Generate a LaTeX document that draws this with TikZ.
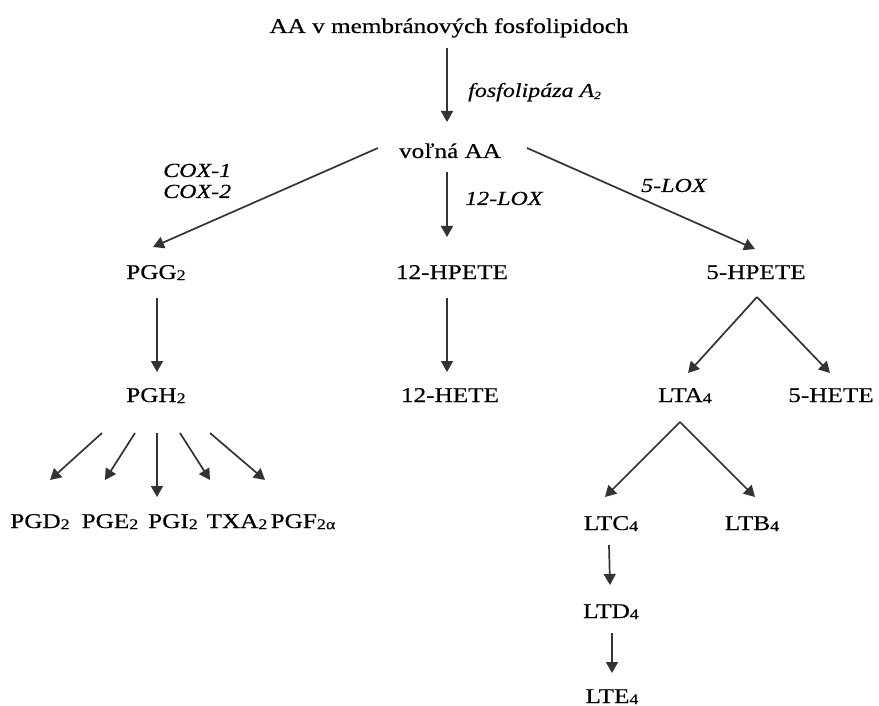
\documentclass[tikz,border=0pt]{standalone}
\usepackage{fontspec}
\setmainfont[FakeStretch=1.2,FakeBold=0.4]{Liberation Serif}
\usetikzlibrary{arrows.meta}
\newcommand\dn[1]{\raisebox{-1.2pt}{\fontsize{15}{15}\selectfont #1}}
\newcommand\dnsmall[1]{\raisebox{-2pt}{\fontsize{11}{11}\selectfont #1}}
\begin{document}
\begin{tikzpicture}[x=1pt,y=-1pt,
  lbl/.style={inner sep=0pt, anchor=base, font=\fontsize{21}{24}\selectfont},
  enz/.style={inner sep=0pt, anchor=base west, font=\fontsize{20}{24}\selectfont\itshape},
  arr/.style={draw=black!80, line width=1.7pt, -{Triangle[length=11pt,width=12pt]}}]
\useasboundingbox (0,0) rectangle (879,706);
% nodes
\node[lbl] (top) at (449,33) {AA v membránových fosfolipidoch};
\node[enz] (fosfo) at (468,97) {fosfolipáza A\dnsmall{2}};
\node[lbl] (volna) at (450,158) {voľná AA};
\node[enz] (cox1) at (163,177) {COX-1};
\node[enz] (cox2) at (163,198) {COX-2};
\node[enz] (lox12) at (465,205) {12-LOX};
\node[enz] (lox5) at (641,192) {5-LOX};
\node[lbl] (pgg2) at (156,279) {PGG\dn{2}};
\node[lbl] (hpete12) at (452,279) {12-HPETE};
\node[lbl] (hpete5) at (756,279) {5-HPETE};
\node[lbl] (pgh2) at (156,402) {PGH\dn{2}};
\node[lbl] (hete12) at (450,402) {12-HETE};
\node[lbl] (lta4) at (685,402) {LTA\dn{4}};
\node[lbl] (hete5) at (831,402) {5-HETE};
\node[lbl] (pgd2) at (40,528) {PGD\dn{2}};
\node[lbl] (pge2) at (110,528) {PGE\dn{2}};
\node[lbl] (pgi2) at (173,528) {PGI\dn{2}};
\node[lbl] (txa2) at (237,528) {TXA\dn{2}};
\node[lbl] (pgf2a) at (303,528) {PGF\dn{2α}};
\node[lbl] (ltc4) at (611,530) {LTC\dn{4}};
\node[lbl] (ltb4) at (752,530) {LTB\dn{4}};
\node[lbl] (ltd4) at (611,618) {LTD\dn{4}};
\node[lbl] (lte4) at (612,703) {LTE\dn{4}};
% connectors
\draw[arr] ([shift={(-2,15)}]top.base) -- ([shift={(-3,-36)}]volna.base);
\draw[arr] ([shift={(-72,-10)}]volna.base) -- ([shift={(-3,-32)}]pgg2.base);
\draw[arr] ([shift={(-3,14)}]volna.base) -- ([shift={(-5,-42)}]hpete12.base);
\draw[arr] ([shift={(77,-10)}]volna.base) -- ([shift={(-1,-30)}]hpete5.base);
\draw[arr] ([shift={(1,19)}]pgg2.base) -- ([shift={(1,-30)}]pgh2.base);
\draw[arr] ([shift={(-5,19)}]hpete12.base) -- ([shift={(-3,-30)}]hete12.base);
\draw[arr] ([shift={(1,18)}]hpete5.base) -- ([shift={(3,-29)}]lta4.base);
\draw[arr] ([shift={(1,18)}]hpete5.base) -- ([shift={(-1,-29)}]hete5.base);
\draw[arr] ([shift={(-54,31)}]pgh2.base) -- ([shift={(10,-48)}]pgd2.base);
\draw[arr] ([shift={(-21,31)}]pgh2.base) -- ([shift={(-5,-48)}]pge2.base);
\draw[arr] ([shift={(1,31)}]pgh2.base) -- ([shift={(-16,-31)}]pgi2.base);
\draw[arr] ([shift={(24,31)}]pgh2.base) -- ([shift={(-27,-48)}]txa2.base);
\draw[arr] ([shift={(54,31)}]pgh2.base) -- ([shift={(-38,-48)}]pgf2a.base);
\draw[arr] ([shift={(-5,20)}]lta4.base) -- ([shift={(-6,-33)}]ltc4.base);
\draw[arr] ([shift={(-5,20)}]lta4.base) -- ([shift={(3,-33)}]ltb4.base);
\draw[arr] ([shift={(-2,15)}]ltc4.base) -- ([shift={(-1,-33)}]ltd4.base);
\draw[arr] ([shift={(1,15)}]ltd4.base) -- ([shift={(0,-30)}]lte4.base);
\end{tikzpicture}
\end{document}
